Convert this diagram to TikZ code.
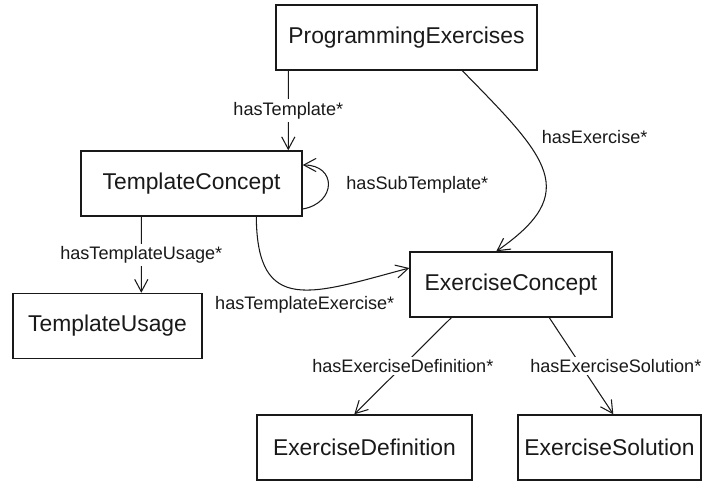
\documentclass[tikz,border=0pt]{standalone}
\usepackage{fontspec}
\setmainfont{Liberation Sans}
\usetikzlibrary{positioning,arrows.meta}

\begin{document}
\begin{tikzpicture}[
    >={Straight Barb[length=7pt,width=7.5pt]},
    box/.style={
      draw=black!90,
      text=black!90,
      line width=0.8pt,
      font=\fontsize{13}{15}\selectfont,
      minimum height=1.3cm,
      inner sep=0pt
    },
    rel/.style={
      fill=white,
      text=black!90,
      font=\fontsize{10.3}{12}\selectfont,
      inner sep=1.5pt
    },
    link/.style={->, draw=black!90, line width=0.6pt}
  ]
    \useasboundingbox (0,0) rectangle (14.06,-9.64);

    \node[box, minimum width=5.22cm] (progex) at (8.13,-0.75) {ProgrammingExercises};
    \node[box, minimum width=4.42cm] (tplconcept) at (3.83,-3.67) {TemplateConcept};
    \node[box, minimum width=3.78cm] (tplusage) at (2.15,-6.52) {TemplateUsage};
    \node[box, minimum width=4.04cm] (exconcept) at (10.22,-5.69) {ExerciseConcept};
    \node[box, minimum width=4.3cm] (exdef) at (7.29,-8.95) {ExerciseDefinition};
    \node[box, minimum width=3.66cm] (exsol) at (12.19,-8.95) {ExerciseSolution};

    % top level
    \draw[link] ([xshift=0.26cm]progex.south west) -- node[rel] {hasTemplate*} ([xshift=4.16cm]tplconcept.north west);
    \draw[link] ([xshift=3.74cm]progex.south west) .. controls (10.96,-3.16) and (11.64,-3.84) .. ([xshift=1.74cm]exconcept.north west)
      node[rel, pos=0.3, right=0.3cm, fill=none] {hasExercise*};

    % templates
    \draw[link] ([yshift=-0.51cm]tplconcept.east) to[out=10, in=0, looseness=2]
      node[rel, right=0.3cm, fill=none] {hasSubTemplate*} ([yshift=0.37cm]tplconcept.east);
    \draw[link] ([xshift=1.22cm]tplconcept.south west) -- node[rel] {hasTemplateUsage*} ([xshift=2.58cm]tplusage.north west);
    \draw[link] ([xshift=3.52cm]tplconcept.south west) .. controls (5.14,-6.32) and (6.24,-5.88) .. ([yshift=0.33cm]exconcept.west)
      node[rel, pos=0.55, below=2pt, fill=none] {hasTemplateExercise*};

    % exercises
    \draw[link] ([xshift=0.84cm]exconcept.south west) -- node[rel] {hasExerciseDefinition*} ([xshift=1.96cm]exdef.north west);
    \draw[link] ([xshift=2.8cm]exconcept.south west) -- node[rel, xshift=0.69cm] {hasExerciseSolution*} ([xshift=1.92cm]exsol.north west);
  \end{tikzpicture}
\end{document}
